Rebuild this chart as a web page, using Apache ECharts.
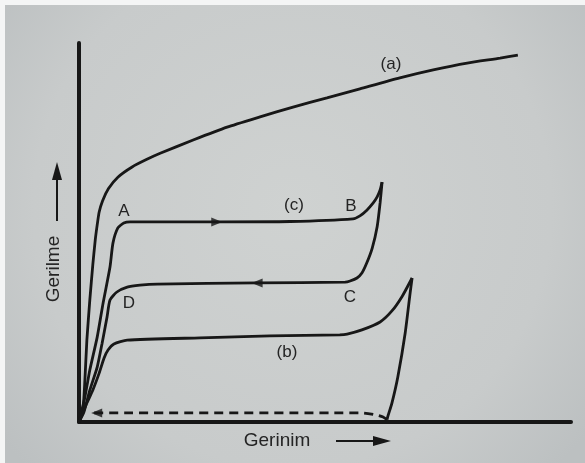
<!DOCTYPE html>
<html>
<head>
<meta charset="utf-8">
<script src="https://cdn.jsdelivr.net/npm/echarts@6/dist/echarts.min.js"></script>
<style>
  html, body { margin: 0; padding: 0; background: #fff; }
  #chart { width: 585px; height: 463px; }
</style>
</head>
<body>
<div id="chart"></div>
<script>
// Stress–strain curves (strain on x, stress on y, arbitrary units 0–100)

// (a) continuous loading
const curveA = [
  [0, 0], [0.8, 3.2], [1.2, 11.1], [1.6, 21.6], [2.2, 32.2], [2.8, 41.4],
  [3.3, 48.0], [3.7, 52.0], [4.1, 55.4], [4.8, 58.4], [6.0, 61.6], [7.9, 64.6],
  [10.8, 67.3], [13.8, 69.3], [16.5, 70.9], [23.2, 74.4], [30.1, 77.8],
  [36.8, 80.5], [43.5, 83.1], [50.4, 85.5], [57.1, 87.9], [65.2, 90.8],
  [72.0, 92.9], [78.9, 94.7], [85.6, 96.0], [89.2, 96.8]
];

// (c) loading: origin -> A -> B
const curveCLoad = [
  [0, 0], [1.2, 6.6], [2.2, 13.7], [3.7, 22.4], [4.9, 31.4], [6.3, 40.9],
  [6.9, 47.2], [7.9, 51.2], [9.1, 52.5], [10.4, 52.8], [28.0, 52.8],
  [42.9, 52.9], [55.7, 53.6], [57.1, 54.4], [58.5, 55.9], [59.8, 57.8],
  [60.6, 59.4], [61.2, 61.2], [61.6, 63.3]
];

// (c) unloading: B -> C -> D -> origin
const curveCUnload = [
  [61.6, 63.3], [61.2, 57.8], [60.6, 51.5], [59.6, 45.9], [58.5, 42.0],
  [57.5, 39.3], [56.5, 38.0], [55.1, 37.2], [54.1, 36.9], [36.2, 36.7],
  [15.9, 36.4], [12.4, 36.1], [9.8, 35.6], [7.7, 34.3], [6.3, 32.2],
  [5.7, 27.7], [4.7, 20.8], [3.7, 14.5], [2.2, 8.4], [1.0, 2.6], [0, 0]
];

// (b) loading up to the peak
const curveBLoad = [
  [0, 0], [1.6, 5.0], [2.8, 8.4], [4.1, 12.9], [5.1, 16.9], [5.9, 19.0],
  [7.1, 20.6], [9.8, 21.6], [24.6, 22.2], [38.8, 22.7], [53.0, 23.0],
  [54.5, 23.2], [57.5, 24.3], [61.2, 26.4], [63.6, 29.3], [65.7, 33.2],
  [67.7, 38.0]
];

// (b) unloading down to the strain axis
const curveBUnload = [
  [67.7, 38.0], [67.3, 34.0], [66.3, 23.5], [64.8, 11.9], [63.6, 5.0],
  [62.8, 1.6], [62.6, 0.6]
];

// recovery on heating (dashed) back towards zero strain
const recovery = [
  [62.6, 0.6], [61.8, 1.3], [60.6, 1.8], [57.5, 2.4], [2.8, 2.4]
];

// direction arrows along the paths: [x, y, rotation]
const pathArrows = [
  [28.0, 52.8, -90],
  [36.2, 36.7, 90],
  [3.6, 2.4, 90]
];

const ink = '#171717';
const textInk = '#242424';
const fontFamily = '"Liberation Sans", Arial, sans-serif';

function curve(data, dashed) {
  return {
    type: 'line',
    data: data,
    showSymbol: false,
    smooth: 0.2,
    silent: true,
    lineStyle: { color: ink, width: 2.8, type: dashed ? [9, 6] : 'solid' }
  };
}

function label(text, x, y, size, rot) {
  return {
    type: 'text',
    x: x, y: y,
    rotation: rot || 0,
    style: {
      text: text,
      fill: textInk,
      font: size + 'px ' + fontFamily,
      align: 'center',
      verticalAlign: 'middle'
    }
  };
}

const chart = echarts.init(document.getElementById('chart'), null, { renderer: 'canvas' });

chart.setOption({
  backgroundColor: {
    type: 'radial', x: 0.5, y: 0.45, r: 0.8,
    colorStops: [
      { offset: 0, color: '#cfd2d1' },
      { offset: 0.7, color: '#c8cbcb' },
      { offset: 1, color: '#bcc0c1' }
    ]
  },
  animation: false,
  grid: { left: 79, right: 14, top: 43, bottom: 41, containLabel: false },
  xAxis: {
    type: 'value', min: 0, max: 100,
    axisLine: { show: true, lineStyle: { color: ink, width: 4 } },
    axisTick: { show: false }, axisLabel: { show: false }, splitLine: { show: false }
  },
  yAxis: {
    type: 'value', min: 0, max: 100,
    axisLine: { show: true, lineStyle: { color: ink, width: 4 } },
    axisTick: { show: false }, axisLabel: { show: false }, splitLine: { show: false }
  },
  series: [
    curve(curveA),
    curve(curveCLoad),
    curve(curveCUnload),
    curve(curveBLoad),
    curve(curveBUnload),
    curve(recovery, true),
    {
      type: 'scatter',
      silent: true,
      symbol: 'triangle',
      symbolSize: [9, 11],
      data: pathArrows.map(a => ({ value: [a[0], a[1]], symbolRotate: a[2] })),
      itemStyle: { color: ink }
    }
  ],
  graphic: [
    // scanned page margins
    { type: 'rect', shape: { x: 0, y: 0, width: 585, height: 5 }, style: { fill: '#f4f5f5' } },
    { type: 'rect', shape: { x: 0, y: 0, width: 5, height: 463 }, style: { fill: '#f4f5f5' } },

    // curve and point labels
    label('(a)', 391, 64, 17),
    label('(c)', 294, 205, 17),
    label('(b)', 287, 352, 17),
    label('A', 124, 211, 17),
    label('B', 351, 206, 17),
    label('C', 350, 297, 17),
    label('D', 129, 303, 17),

    // axis titles with direction arrows
    label('Gerilme', 54, 269, 19, Math.PI / 2),
    { type: 'line', shape: { x1: 57, y1: 221, x2: 57, y2: 176 }, style: { stroke: ink, lineWidth: 2 } },
    { type: 'polygon', shape: { points: [[57, 162], [52, 180], [62, 180]] }, style: { fill: ink } },

    label('Gerinim', 277, 441, 19),
    { type: 'line', shape: { x1: 336, y1: 441, x2: 378, y2: 441 }, style: { stroke: ink, lineWidth: 2 } },
    { type: 'polygon', shape: { points: [[391, 441], [373, 436], [373, 446]] }, style: { fill: ink } }
  ]
});
</script>
</body>
</html>
